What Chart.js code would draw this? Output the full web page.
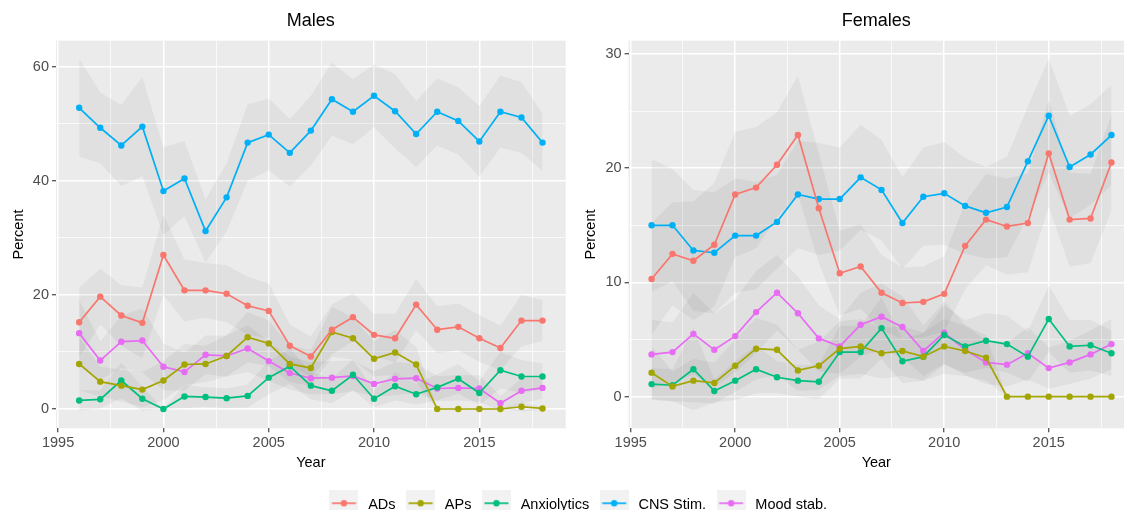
<!DOCTYPE html>
<html>
<head>
<meta charset="utf-8">
<script src="https://cdn.jsdelivr.net/npm/chart.js@4.4.1/dist/chart.umd.min.js"></script>
<style>
  html, body { margin: 0; padding: 0; background: #ffffff; overflow: hidden; width: 1128px; height: 513px; }
  canvas { position: absolute; }
</style>
</head>
<body>
<canvas id="males" width="575" height="480" style="left:0px;top:0px"></canvas>
<canvas id="females" width="556" height="480" style="left:572px;top:0px"></canvas>
<canvas id="legend" width="1154" height="40" style="left:0px;top:490px"></canvas>
<script>
// ---- Data -------------------------------------------------------------
const years = [1996, 1997, 1998, 1999, 2000, 2001, 2002, 2003, 2004, 2005, 2006, 2007,
               2008, 2009, 2010, 2011, 2012, 2013, 2014, 2015, 2016, 2017, 2018];

const seriesNames = ['ADs', 'APs', 'Anxiolytics', 'CNS Stim.', 'Mood stab.'];
const seriesColors = ['#F8766D', '#A3A500', '#00BF7D', '#00B0F6', '#E76BF3'];

// Males: percent by year
const malesADs  = [15.2, 19.7, 16.4, 15.1, 27.0, 20.8, 20.8, 20.2, 18.1, 17.2, 11.1, 9.2, 13.9, 16.1, 13.0, 12.4, 18.3, 13.9, 14.4, 12.4, 10.7, 15.5, 15.5];
const malesAPs  = [7.9, 4.8, 4.1, 3.4, 5.0, 7.8, 7.9, 9.3, 12.6, 11.5, 7.9, 7.2, 13.5, 12.4, 8.8, 9.9, 7.8, 0, 0, 0, 0, 0.4, 0.1];
const malesAnx  = [1.5, 1.7, 5.0, 1.8, 0, 2.2, 2.1, 1.9, 2.3, 5.5, 7.5, 4.1, 3.2, 6.0, 1.8, 4.0, 2.6, 3.8, 5.3, 2.8, 6.8, 5.7, 5.7];
const malesCNS  = [52.8, 49.3, 46.2, 49.5, 38.2, 40.4, 31.2, 37.1, 46.7, 48.1, 44.9, 48.8, 54.3, 52.1, 54.9, 52.2, 48.2, 52.1, 50.5, 46.9, 52.1, 51.1, 46.7];
const malesMood = [13.3, 8.5, 11.8, 12.0, 7.4, 6.5, 9.5, 9.3, 10.6, 8.4, 6.3, 5.4, 5.5, 5.8, 4.4, 5.3, 5.4, 3.6, 3.7, 3.6, 1.0, 3.2, 3.7];

// Males: 95% interval half-widths
const malesADsCI  = [6.1, 4.9, 5.3, 6.2, 7.0, 5.4, 4.8, 5.0, 5.1, 4.8, 3.7, 3.5, 4.4, 4.2, 3.7, 4.3, 4.5, 4.1, 4.1, 4.1, 3.9, 4.5, 3.6];
const malesAPsCI  = [4.6, 2.6, 2.8, 3.1, 3.4, 3.6, 3.2, 3.6, 4.4, 4.0, 3.2, 3.1, 4.4, 3.7, 3.1, 3.9, 3.1, 0, 0, 0, 0, 0.8, 0.3];
const malesAnxCI  = [1.8, 1.6, 3.1, 2.1, 0, 2.0, 1.7, 1.7, 2.0, 2.9, 3.1, 2.4, 2.2, 2.7, 1.5, 2.5, 1.8, 2.3, 2.6, 2.1, 3.2, 2.9, 2.3];
const malesCNSCI  = [8.6, 6.2, 7.1, 8.7, 7.7, 6.6, 5.5, 6.0, 6.7, 6.3, 5.9, 6.1, 6.4, 5.7, 5.5, 6.5, 5.8, 5.9, 5.9, 6.2, 6.3, 6.2, 5.0];
const malesMoodCI = [5.8, 3.4, 4.6, 5.6, 4.1, 3.3, 3.4, 3.6, 4.1, 3.5, 2.9, 2.8, 2.9, 2.7, 2.2, 2.9, 2.6, 2.2, 2.2, 2.3, 1.3, 2.2, 1.9];

// Females: percent by year
const femalesADs  = [10.3, 12.5, 11.9, 13.3, 17.7, 18.3, 20.3, 22.9, 16.5, 10.8, 11.4, 9.1, 8.2, 8.3, 9.0, 13.2, 15.5, 14.9, 15.2, 21.3, 15.5, 15.6, 20.5];
const femalesAPs  = [2.1, 0.9, 1.4, 1.2, 2.7, 4.2, 4.1, 2.3, 2.7, 4.2, 4.4, 3.8, 4.0, 3.5, 4.4, 4.0, 3.4, 0, 0, 0, 0, 0, 0];
const femalesAnx  = [1.1, 1.0, 2.4, 0.5, 1.4, 2.4, 1.7, 1.4, 1.3, 3.9, 3.9, 6.0, 3.1, 3.5, 5.4, 4.4, 4.9, 4.6, 3.5, 6.8, 4.4, 4.5, 3.8];
const femalesCNS  = [15.0, 15.0, 12.8, 12.6, 14.1, 14.1, 15.3, 17.7, 17.3, 17.3, 19.2, 18.1, 15.2, 17.5, 17.8, 16.7, 16.1, 16.6, 20.6, 24.6, 20.1, 21.2, 22.9];
const femalesMood = [3.7, 3.9, 5.5, 4.1, 5.3, 7.4, 9.1, 7.3, 5.1, 4.4, 6.3, 7.0, 6.1, 4.0, 5.6, 4.1, 3.0, 2.8, 3.8, 2.5, 3.0, 3.7, 4.6];

// Females: 95% interval half-widths
const femalesADsCI  = [4.9, 4.5, 5.2, 5.4, 5.5, 5.3, 4.6, 5.2, 4.8, 3.7, 3.7, 3.3, 3.1, 3.1, 3.3, 3.8, 4.0, 4.2, 4.3, 4.7, 4.1, 3.9, 4.2];
const femalesAPsCI  = [2.3, 1.3, 1.9, 1.8, 2.3, 2.7, 2.2, 1.8, 2.1, 2.4, 2.4, 2.2, 2.2, 2.1, 2.4, 2.2, 2.0, 0, 0, 0, 0, 0, 0];
const femalesAnxCI  = [1.4, 1.4, 3.6, 1.0, 1.7, 2.1, 1.4, 1.4, 1.5, 2.3, 2.3, 2.7, 1.9, 2.1, 2.6, 2.3, 2.4, 2.5, 2.2, 2.9, 2.3, 2.2, 2.0];
const femalesCNSCI  = [5.8, 4.9, 5.3, 5.3, 5.0, 4.7, 4.1, 4.7, 4.9, 4.5, 4.6, 4.4, 4.0, 4.3, 4.5, 4.2, 4.0, 4.4, 4.8, 5.0, 4.5, 4.4, 4.4];
const femalesMoodCI = [3.0, 2.6, 3.6, 3.2, 3.2, 3.6, 3.3, 3.2, 2.9, 2.4, 2.8, 2.9, 2.7, 2.2, 2.7, 2.2, 1.9, 1.9, 2.3, 1.8, 1.9, 2.1, 2.2];

// Tick positions and labels
const yearTicksMajor = [1995, 2000, 2005, 2010, 2015];
const yearTicksMinor = [1997.5, 2002.5, 2007.5, 2012.5, 2017.5];
const malesTicksMajor = [0, 20, 40, 60];
const malesTicksMinor = [10, 30, 50];
const femalesTicksMajor = [0, 10, 20, 30];
const femalesTicksMinor = [5, 15, 25];

// ---- Styling ----------------------------------------------------------
const FONT = "'Liberation Sans', Arial, Helvetica, sans-serif";
const PANEL_BG = '#EBEBEB';
const RIBBON_FILL = 'rgba(51,51,51,0.06)';
const TICK_TEXT = '#4D4D4D';

Chart.defaults.font.family = FONT;

const panelBackground = {
  id: 'panelBackground',
  beforeDraw(chart) {
    const { ctx, chartArea: a } = chart;
    ctx.save();
    ctx.fillStyle = PANEL_BG;
    ctx.fillRect(a.left, a.top, a.right - a.left, a.bottom - a.top);
    ctx.restore();
  }
};

function axisGrid(majors) {
  return {
    color: '#FFFFFF',
    lineWidth: c => (c.tick && majors.includes(c.tick.value)) ? 1.5 : 0.75,
    drawTicks: true,
    tickLength: 4,
    tickWidth: 1.1,
    tickColor: c => (c.tick && majors.includes(c.tick.value)) ? '#333333' : 'rgba(0,0,0,0)'
  };
}

function buildPanel(canvasId, cfg) {
  const datasets = [];
  // Confidence ribbons: upper bound filled down to the lower bound
  cfg.values.forEach((vals, i) => {
    const hw = cfg.halfWidths[i];
    datasets.push({
      label: seriesNames[i] + ' upper',
      data: years.map((yr, j) => ({ x: yr, y: vals[j] + hw[j] })),
      borderColor: 'rgba(0,0,0,0)', borderWidth: 0, pointRadius: 0,
      backgroundColor: RIBBON_FILL, fill: '+1', order: 2
    });
    datasets.push({
      label: seriesNames[i] + ' lower',
      data: years.map((yr, j) => ({ x: yr, y: vals[j] - hw[j] })),
      borderColor: 'rgba(0,0,0,0)', borderWidth: 0, pointRadius: 0,
      backgroundColor: 'rgba(0,0,0,0)', fill: false, order: 2
    });
  });
  // Series lines with points
  cfg.values.forEach((vals, i) => {
    datasets.push({
      label: seriesNames[i],
      data: years.map((yr, j) => ({ x: yr, y: vals[j] })),
      borderColor: seriesColors[i], backgroundColor: seriesColors[i],
      borderWidth: 1.7, pointRadius: 3.2, pointBorderWidth: 0,
      pointBackgroundColor: seriesColors[i], fill: false, tension: 0, order: 1
    });
  });

  const xTicks = [...yearTicksMajor, ...yearTicksMinor].sort((a, b) => a - b);
  const yTicks = [...cfg.yMajor, ...cfg.yMinor].sort((a, b) => a - b);

  return new Chart(document.getElementById(canvasId), {
    type: 'line',
    data: { datasets },
    plugins: [panelBackground],
    options: {
      responsive: false,
      animation: false,
      devicePixelRatio: 1,
      layout: { padding: { left: 0, right: cfg.padRight, top: 0, bottom: 8 } },
      scales: {
        x: {
          type: 'linear',
          min: 1994.9,
          max: cfg.xMax,
          afterBuildTicks: s => { s.ticks = xTicks.map(v => ({ value: v })); },
          afterFit: s => { s.height = 43.7; },
          ticks: {
            autoSkip: false, maxRotation: 0, padding: 1.5,
            color: TICK_TEXT, font: { size: 14.5, family: FONT },
            callback: v => yearTicksMajor.includes(v) ? String(v) : ''
          },
          grid: axisGrid(yearTicksMajor),
          border: { display: false },
          title: { display: true, text: 'Year', color: '#000000',
                   font: { size: 14.5, family: FONT }, padding: { top: 0, bottom: 0 } }
        },
        y: {
          type: 'linear',
          min: cfg.yMin,
          max: cfg.yMax,
          afterBuildTicks: s => { s.ticks = yTicks.map(v => ({ value: v })); },
          afterFit: s => { s.width = cfg.yAxisWidth; },
          ticks: {
            padding: 3,
            color: TICK_TEXT, font: { size: 14.5, family: FONT },
            callback: v => cfg.yMajor.includes(v) ? String(v) : ''
          },
          grid: axisGrid(cfg.yMajor),
          border: { display: false },
          title: { display: true, text: 'Percent', color: '#000000',
                   font: { size: 14.5, family: FONT }, padding: { top: 10.3, bottom: 0 } }
        }
      },
      plugins: {
        legend: { display: false },
        tooltip: { enabled: false },
        title: {
          display: true, text: cfg.title, fullSize: false, color: '#000000',
          font: { size: 18, family: FONT, weight: 'normal' },
          padding: { top: 10.5, bottom: 8.6 }
        }
      }
    }
  });
}

buildPanel('males', {
  title: 'Males',
  values: [malesADs, malesAPs, malesAnx, malesCNS, malesMood],
  halfWidths: [malesADsCI, malesAPsCI, malesAnxCI, malesCNSCI, malesMoodCI],
  xMax: 2019.1, yMin: -3.38, yMax: 64.56,
  yMajor: malesTicksMajor, yMinor: malesTicksMinor,
  yAxisWidth: 56, padRight: 9.3
});

buildPanel('females', {
  title: 'Females',
  values: [femalesADs, femalesAPs, femalesAnx, femalesCNS, femalesMood],
  halfWidths: [femalesADsCI, femalesAPsCI, femalesAnxCI, femalesCNSCI, femalesMoodCI],
  xMax: 2018.6, yMin: -2.77, yMax: 31.16,
  yMajor: femalesTicksMajor, yMinor: femalesTicksMinor,
  yAxisWidth: 56.6, padRight: 1.3
});

// ---- Shared legend ----------------------------------------------------
function legendKey(color) {
  const c = document.createElement('canvas');
  c.width = 29; c.height = 32;
  const g = c.getContext('2d');
  g.fillStyle = '#F2F2F2';
  g.fillRect(0, 0, 29, 28);
  g.strokeStyle = color; g.lineWidth = 1.7;
  g.beginPath(); g.moveTo(2.5, 14); g.lineTo(26.5, 14); g.stroke();
  g.fillStyle = color;
  g.beginPath(); g.arc(14.5, 14, 3.2, 0, Math.PI * 2); g.fill();
  return c;
}

new Chart(document.getElementById('legend'), {
  type: 'line',
  data: {
    datasets: seriesNames.map((name, i) => ({
      label: name, data: [], borderColor: seriesColors[i], backgroundColor: seriesColors[i]
    }))
  },
  options: {
    responsive: false,
    animation: false,
    devicePixelRatio: 1,
    layout: { padding: 0 },
    scales: { x: { display: false }, y: { display: false } },
    plugins: {
      tooltip: { enabled: false },
      legend: {
        display: true,
        position: 'top',
        labels: {
          usePointStyle: true,
          pointStyleWidth: 34,
          padding: 8,
          color: '#000000',
          font: { size: 14.5, family: FONT },
          generateLabels: chart => chart.data.datasets.map((d, i) => ({
            text: d.label,
            pointStyle: legendKey(seriesColors[i]),
            fillStyle: seriesColors[i],
            strokeStyle: seriesColors[i],
            lineWidth: 0,
            hidden: false,
            datasetIndex: i,
            fontColor: '#000000'
          }))
        }
      }
    }
  }
});
</script>
</body>
</html>
